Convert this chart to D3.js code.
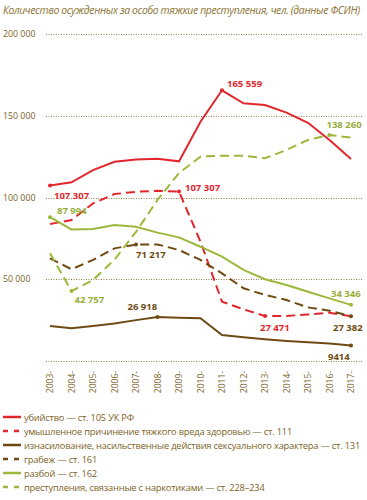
<!DOCTYPE html>
<html>
<head><meta charset="utf-8"><script src="https://d3js.org/d3.v7.min.js"></script></head>
<body>
<svg class="chart" width="367" height="500"></svg>
<script>
  // years on the x axis
  var years = [2003, 2004, 2005, 2006, 2007, 2008, 2009, 2010, 2011, 2012, 2013, 2014, 2015, 2016, 2017];
  var yTicks = [0, 50000, 100000, 150000, 200000];

  // values
  var murder   = [107307, 109300, 116800, 121900, 123300, 123700, 122100, 146300, 165559, 157600, 156600, 151900, 145700, 135200, 123500];
  var injury   = [83800, 86200, 96400, 102100, 103500, 104100, 103600, 73000, 36300, 31600, 27471, 27500, 28500, 29500, 27382];
  var rape     = [21400, 20000, 21400, 23000, 25000, 26918, 26500, 26100, 15900, 14500, 13300, 12300, 11400, 10700, 9414];
  var robbery  = [62800, 56100, 61800, 68900, 71217, 71300, 67900, 61800, 53600, 44500, 40400, 37300, 32800, 30800, 27382];
  var assault  = [87994, 80500, 80700, 83200, 82100, 78500, 75600, 69900, 63800, 55700, 50000, 46500, 42400, 38300, 34346];
  var drugs    = [65900, 42757, 49500, 62000, 79000, 98500, 115000, 125000, 125600, 125600, 124000, 129100, 135200, 138260, 136600];

  var red = "#e2262b", brown = "#6f4b13", green = "#9cb83a", text = "#7d5f26";

  var series = [
    {name: "убийство — ст. 105 УК РФ", values: murder, color: red, dash: null},
    {name: "умышленное причинение тяжкого вреда здоровью — ст. 111", values: injury, color: red, dash: "9,5"},
    {name: "изнасилование, насильственные действия сексуального характера — ст. 131", values: rape, color: brown, dash: null},
    {name: "грабеж — ст. 161", values: robbery, color: brown, dash: "9,5"},
    {name: "разбой — ст. 162", values: assault, color: green, dash: null},
    {name: "преступления, связанные с наркотиками — ст. 228–234", values: drugs, color: green, dash: "9,5"}
  ];

  // labelled points: series index, year index, text, dx, dy
  var labels = [
    [0, 0, "107 307", 4, 13],
    [0, 8, "165 559", 5, -3],
    [1, 6, "107 307", 6, -1],
    [1, 10, "27 471", -5, 15],
    [2, 5, "26 918", -30, -7],
    [2, 14, "9414", -23, 14],
    [3, 4, "71 217", 0, 13],
    [3, 14, "27 382", -18, 15],
    [4, 0, "87 994", 7, -3],
    [4, 14, "34 346", -20, -8],
    [5, 1, "42 757", 3, 12],
    [5, 13, "138 260", -3, -7]
  ];

  var svg = d3.select(".chart");

  var x = d3.scaleLinear().domain([2003, 2017]).range([50, 351]);
  var y = d3.scaleLinear().domain([0, 200000]).range([361, 34]);

  // title
  svg.append("text")
    .attr("x", 3).attr("y", 14)
    .attr("fill", "#8c7334")
    .style("font-family", "'Open Sans', sans-serif")
    .style("font-style", "italic")
    .style("font-size", "10.4px")
    .style("letter-spacing", "-0.35px")
    .text("Количество осужденных за особо тяжкие преступления, чел. (данные ФСИН)");

  // dotted gridlines
  svg.selectAll(".grid").data(yTicks).enter().append("line")
    .attr("x1", 46).attr("x2", 362)
    .attr("y1", function(d) { return Math.round(y(d)) + 0.5; })
    .attr("y2", function(d) { return Math.round(y(d)) + 0.5; })
    .attr("stroke", "#9a7e4a")
    .attr("stroke-width", 1)
    .attr("stroke-dasharray", "1,1.5");

  svg.selectAll(".ylab").data(yTicks.filter(function(d) { return d > 0; })).enter().append("text")
    .attr("x", 3).attr("y", function(d) { return y(d) + 3; })
    .attr("fill", text)
    .style("font-family", "'Open Sans', sans-serif")
    .style("font-size", "8.8px")
    .text(function(d) { return d3.format(",")(d).replace(",", " "); });

  // year labels, rotated
  svg.selectAll(".xlab").data(years).enter().append("text")
    .attr("transform", function(d) { return "translate(" + (x(d) + 3) + ",371) rotate(-90)"; })
    .attr("text-anchor", "end")
    .attr("fill", text)
    .style("font-family", "'Open Sans', sans-serif")
    .style("font-size", "8.5px")
    .text(function(d) { return d + "-"; });

  var line = d3.line()
    .x(function(d, i) { return x(years[i]); })
    .y(function(d) { return y(d); });

  series.forEach(function(s) {
    svg.append("path")
      .attr("d", line(s.values))
      .attr("fill", "none")
      .attr("stroke", s.color)
      .attr("stroke-width", 2)
      .attr("stroke-dasharray", s.dash);
  });

  // markers and value labels
  labels.forEach(function(l) {
    var s = series[l[0]];
    var px = x(years[l[1]]), py = y(s.values[l[1]]);
    svg.append("circle").attr("cx", px).attr("cy", py).attr("r", 2).attr("fill", s.color);
    svg.append("text")
      .attr("x", px + l[3]).attr("y", py + l[4])
      .attr("fill", s.color == green ? "#98ae3c" : s.color)
      .style("font-family", "'Open Sans', sans-serif")
      .style("font-weight", "bold")
      .style("font-size", "9.5px")
      .text(l[2]);
  });

  // legend
  var legend = svg.selectAll(".leg").data(series).enter().append("g")
    .attr("transform", function(d, i) { return "translate(0," + (417 + i * 14) + ")"; });

  legend.append("line")
    .attr("x1", 3).attr("x2", 21).attr("y1", 0).attr("y2", 0)
    .attr("stroke", function(d) { return d.color; })
    .attr("stroke-width", 2.5)
    .attr("stroke-dasharray", function(d) { return d.dash ? "5,6" : null; });

  legend.append("text")
    .attr("x", 24).attr("y", 3.5)
    .attr("fill", text)
    .style("font-family", "'Open Sans', sans-serif")
    .style("font-size", "9.3px")
    .style("letter-spacing", "-0.2px")
    .text(function(d) { return d.name; });
</script>
<style>
  body { margin: 0; background: #fff; }
</style>
</body>
</html>
